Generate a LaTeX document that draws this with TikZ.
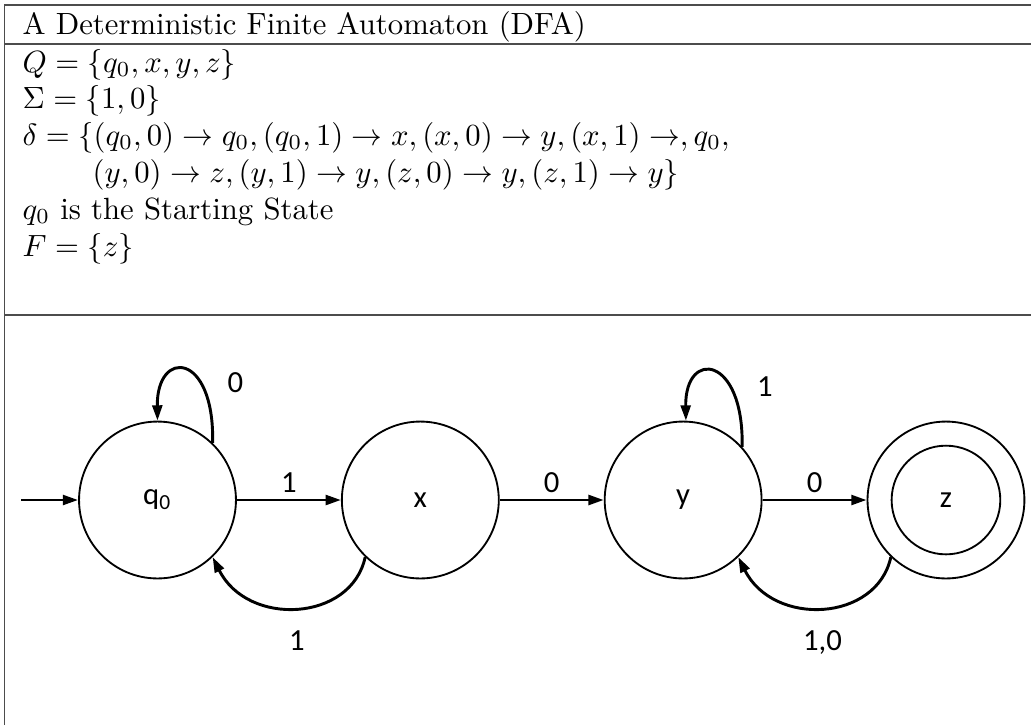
\documentclass[tikz,border=0pt]{standalone}
\usepackage{fontspec}
\newfontfamily\statefont{Carlito}
\usetikzlibrary{arrows.meta,positioning}

\begin{document}
\begin{tikzpicture}[
    x=0.3257pt, y=-0.3257pt,
    node distance=33.9pt,
    rule/.style={draw=black!70, line width=0.45pt},
    txt/.style={anchor=base west, inner sep=0pt},
    state/.style={circle, draw, line width=0.6pt, minimum size=51.1pt,
                  inner sep=0pt, font=\statefont},
    lbl/.style={font=\statefont, inner sep=2pt},
    line/.style={-{Triangle[length=5pt,width=3.2pt]}, line width=0.95pt}
]
    \useasboundingbox (0,0) rectangle (1031,725);

    \draw[rule] (4.5,725) -- (4.5,5) -- (1031,5);
    \draw[rule] (4.5,44) -- (1031,44);
    \draw[rule] (4.5,315) -- (1031,315);

    \node[txt] (title) at (22,34) {A Deterministic Finite Automaton (DFA)};
    \node[txt] (states) at (22,72) {$Q = \{q_0, x, y, z\}$};
    \node[txt] (alphabet) at (22,108.5) {$\Sigma = \{1, 0\}$};
    \node[txt] (delta) at (22,145) {$\delta = \{(q_0,0) \rightarrow q_0, (q_0,1) \rightarrow x, (x,0) \rightarrow y, (x,1) \rightarrow, q_0,$};
    \node[txt] (delta2) at (92,182) {$(y,0) \rightarrow z, (y,1) \rightarrow y, (z,0) \rightarrow y, (z,1) \rightarrow y\}$};
    \node[txt] (start) at (22,219) {$q_0$ is the Starting State};
    \node[txt] (final) at (22,256) {$F = \{z\}$};

    \node[state] (q0) at (157.5,500) {q\textsubscript{0}};
    \node[state, right=of q0] (x) {x};
    \node[state, right=of x] (y) {y};
    \node[state, right=of y] (z) {};
    \node[state, minimum size=35.4pt] (zin) at (z) {z};
    \coordinate (init) at (21,500);

    \draw[line] (init) -- (q0);
    \draw[line] (q0) -- node[lbl, above] {1} (x);
    \draw[line] (x) -- node[lbl, above] {0} (y);
    \draw[line] (y) -- node[lbl, above] {0} (z);
    \draw[line] (q0.46) .. controls +(2,-92) and +(-1,-72) ..
        node[lbl, pos=0.25, right=5pt, yshift=2.5pt] {0} (q0.north);
    \draw[line] (y.42) .. controls +(2,-92) and +(-1,-72) ..
        node[lbl, pos=0.25, right=5pt, yshift=2.5pt] {1} (y.88);
    \draw[line] (x.226) .. controls +(-14,65) and +(35,70) ..
        node[lbl, pos=0.5, below=5pt] {1} (q0.314);
    \draw[line] (z.226) .. controls +(-14,65) and +(35,70) ..
        node[lbl, pos=0.5, below=5pt] {1,0} (y.314);
\end{tikzpicture}
\end{document}
